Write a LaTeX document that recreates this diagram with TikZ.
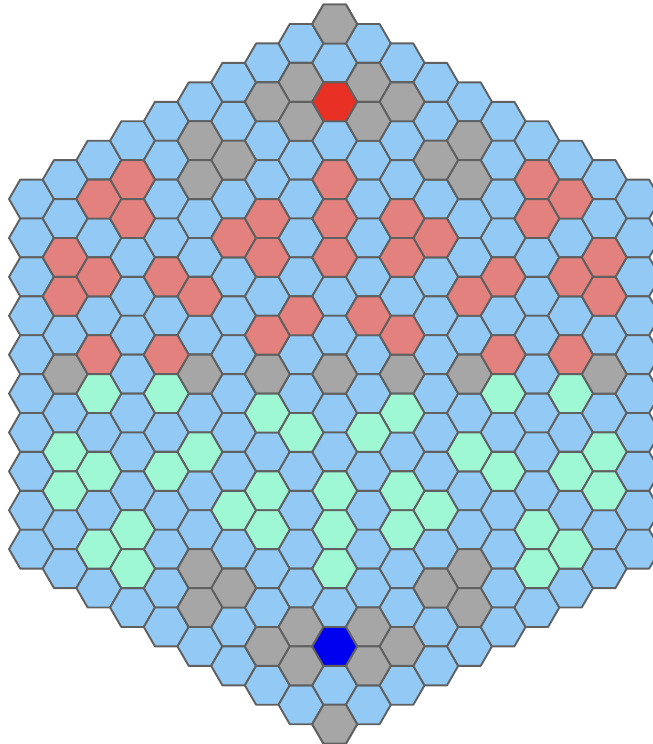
\documentclass[tikz,border=0pt]{standalone}
\definecolor{cblue}{RGB}{146,201,245}
\definecolor{cred}{RGB}{226,129,125}
\definecolor{cgray}{RGB}{166,166,166}
\definecolor{cgreen}{RGB}{158,248,212}
\definecolor{cbright}{RGB}{233,48,36}
\definecolor{cdeep}{RGB}{0,0,240}
\definecolor{cline}{RGB}{96,96,96}
\tikzset{hexline/.style={draw=cline, line width=1.9pt, line join=round}}
\newcommand{\hexat}[3]{%
  \pgfmathsetmacro{\hx}{334.7+(#1)*33.69}%
  \pgfmathsetmacro{\hy}{-(24+abs(#1)*19.45+(#2)*38.9)}%
  \draw[hexline, fill=#3, shift={(\hx,\hy)}] (0:22.46) -- (60:22.46) -- (120:22.46) -- (180:22.46) -- (240:22.46) -- (300:22.46) -- cycle;
}
\begin{document}
\begin{tikzpicture}[x=1pt,y=1pt]
\useasboundingbox (0,0) rectangle (653,-744);
\clip (0,0) rectangle (653,-744);
\foreach \c in {-9,...,9} {
  \pgfmathtruncatemacro{\n}{18-abs(\c)}
  \foreach \k in {0,...,\n} {\hexat{\c}{\k}{cblue}}
}
\foreach \c/\k in {0/0, -1/1, -2/1, -1/2, 1/1, 2/1, 1/2, -3/2, -4/1, -4/2, 3/2, 4/1, 4/2, -8/5, -4/7, -2/8, 0/9, 2/8, 4/7, 8/5, -3/13, -4/12, -4/13, 3/13, 4/12, 4/13, -1/15, -2/15, -1/16, 1/15, 2/15, 1/16, 0/18}
  {\hexat{\c}{\k}{cgray}}
\foreach \c/\k in {-6/1, -7/1, -6/2, -8/2, -7/3, -8/3, -5/4, -4/5, -7/5, -5/6, -3/4, -2/4, -2/5, -2/7, -1/7, 6/1, 7/1, 6/2, 8/2, 7/3, 8/3, 5/4, 4/5, 7/5, 5/6, 3/4, 2/4, 2/5, 2/7, 1/7, 0/4, 0/5, 0/6}
  {\hexat{\c}{\k}{cred}}
\foreach \c/\k in {-7/6, -5/7, -8/7, -4/9, -7/8, -5/9, -8/8, -6/10, -7/10, -6/11, -3/11, -2/9, -2/11, -2/12, -1/10, 7/6, 5/7, 8/7, 4/9, 7/8, 5/9, 8/8, 6/10, 7/10, 6/11, 3/11, 2/9, 2/11, 2/12, 1/10, 0/12, 0/13, 0/14}
  {\hexat{\c}{\k}{cgreen}}
\hexat{0}{2}{cbright}
\hexat{0}{16}{cdeep}
\end{tikzpicture}
\end{document}
